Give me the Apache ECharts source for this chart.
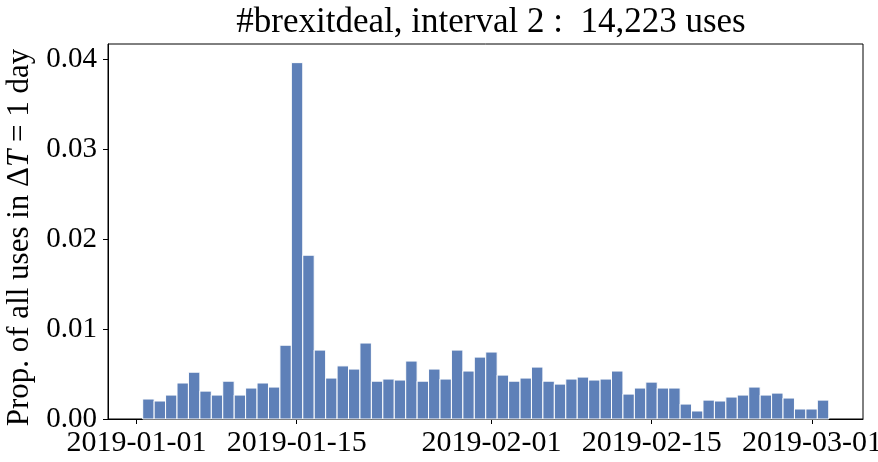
<!DOCTYPE html>
<html>
<head>
<meta charset="utf-8">
<script src="https://cdn.jsdelivr.net/npm/echarts@6/dist/echarts.min.js"></script>
<style>html,body{margin:0;padding:0;background:#fff}#c{width:878px;height:462px}</style>
</head>
<body>
<div id="c"></div>
<script>
// Daily proportions of all uses, starting ~2019-01-01 13:00 (bins of ~1 day)
const binStart = 0.55;      // days after 2019-01-01
const binWidth = 0.9985;    // days
const values = [
  0.00222,0.00200,0.00266,0.00400,0.00520,0.00310,0.00266,0.00420,0.00266,0.00344,
  0.00400,0.00355,0.00820,0.03960,0.01820,0.00766,0.00455,0.00590,0.00555,0.00844,
  0.00420,0.00444,0.00433,0.00644,0.00420,0.00555,0.00444,0.00766,0.00533,0.00688,
  0.00744,0.00488,0.00420,0.00455,0.00577,0.00420,0.00388,0.00444,0.00466,0.00433,
  0.00444,0.00533,0.00277,0.00344,0.00410,0.00344,0.00344,0.00166,0.00089,0.00210,
  0.00200,0.00244,0.00266,0.00355,0.00266,0.00288,0.00233,0.00111,0.00111,0.00210
];
const xTickDays = [0, 14, 31, 45, 59];
const xTickLabels = ['2019-01-01', '2019-01-15', '2019-02-01', '2019-02-15', '2019-03-01'];
const yTicks = [0, 0.01, 0.02, 0.03, 0.04];

const data = values.map((v, i) => [binStart + i * binWidth, binStart + (i + 1) * binWidth, v]);

const font = "'Liberation Serif', 'DejaVu Serif', serif";
const chart = echarts.init(document.getElementById('c'), null, {renderer: 'canvas'});
chart.setOption({
  animation: false,
  title: {
    text: '#brexitdeal, interval 2 :  14,223 uses',
    left: 486, textAlign: 'center', top: 0,
    textStyle: {fontFamily: font, fontSize: 35, fontWeight: 'normal', color: '#000'}
  },
  grid: {left: 108, top: 44, right: 15, bottom: 43, containLabel: false, outerBoundsMode: 'none',
    show: true, borderColor: '#000', borderWidth: 1, backgroundColor: 'transparent'},
  xAxis: {
    type: 'value', min: -2.48, max: 63.45,
    splitLine: {show: false},
    axisLine: {show: true, onZero: false, lineStyle: {color: '#000', width: 1}},
    axisTick: {show: true, length: 5, customValues: xTickDays, lineStyle: {color: '#000', width: 1}},
    axisLabel: {
      customValues: xTickDays, margin: 9, color: '#000', fontFamily: font, fontSize: 30,
      formatter: v => { const k = xTickDays.indexOf(Math.round(v)); return k >= 0 ? xTickLabels[k] : ''; }
    }
  },
  yAxis: {
    type: 'value', min: 0, max: 0.04167,
    splitLine: {show: false},
    axisLine: {show: true, onZero: false, lineStyle: {color: '#000', width: 1}},
    axisTick: {show: true, length: 5, customValues: yTicks, lineStyle: {color: '#000', width: 1}},
    axisLabel: {customValues: yTicks, margin: 11, color: '#000', fontFamily: font, fontSize: 29,
      formatter: v => v.toFixed(2)},
    name: 'Prop. of all uses in Δ{i|T} = 1 day',
    nameLocation: 'middle', nameRotate: 90, nameGap: 66,
    nameTextStyle: {color: '#000', fontFamily: font, fontSize: 31, padding: [0, 12, 0, 0],
      rich: {i: {fontStyle: 'italic', fontFamily: font, fontSize: 31, color: '#000'}}}
  },
  series: [{
    type: 'custom',
    data: data,
    encode: {x: [0, 1], y: 2},
    renderItem: (params, api) => {
      const p0 = api.coord([api.value(0), api.value(2)]);
      const p1 = api.coord([api.value(1), 0]);
      return {
        type: 'rect',
        shape: {x: p0[0], y: p0[1], width: p1[0] - p0[0], height: p1[1] - p0[1]},
        style: {fill: '#5e80b8', stroke: '#ffffff', lineWidth: 1}
      };
    }
  }]
});
</script>
</body>
</html>
